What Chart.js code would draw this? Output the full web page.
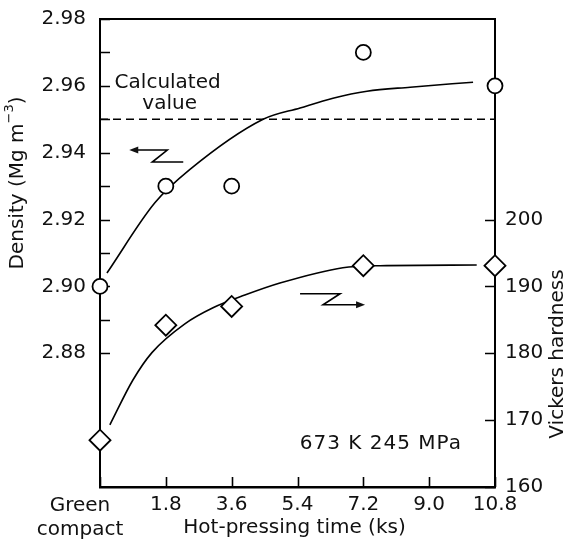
<!DOCTYPE html>
<html>
<head>
<meta charset="utf-8">
<script src="https://cdn.jsdelivr.net/npm/chart.js@4.4.1/dist/chart.umd.min.js"></script>
<style>
  html, body { margin: 0; padding: 0; background: #fff; }
</style>
</head>
<body>
<canvas id="c" width="569" height="543"></canvas>
<script>
// ---- data ----
const timeTicks = [0, 1.8, 3.6, 5.4, 7.2, 9.0, 10.8];   // ks
const densTime = [0, 1.8, 3.6, 7.2, 10.8];
const density = [2.900, 2.930, 2.930, 2.970, 2.960];    // Mg m-3
const hardTime = [0, 1.8, 3.6, 7.2, 10.8];
const hardness = [167, 184.2, 187, 193.1, 193.1];       // HV

// hand-drawn trend curves
const densFitTime = [0.19, 1.5, 2.46, 4.46, 5.47, 6.37, 7.3, 8.48, 10.2];
const densFit = [2.904, 2.925, 2.935, 2.950, 2.9534, 2.9563, 2.9584, 2.9596, 2.9611];
const hardFitTime = [0.27, 0.9, 1.42, 2.32, 3.09, 3.96, 4.92, 6.64, 7.66, 10.3];
const hardFit = [169.3, 176.0, 180.1, 184.4, 186.8, 188.7, 190.5, 192.8, 193.1, 193.2];

const calcDensity = 2.95;

const FAMILY = '"DejaVu Sans", sans-serif';
const pts = (xs, ys) => xs.map((v, i) => ({ x: v, y: ys[i] }));

// ---- ticks inside the frame, top border ----
const frameTicks = {
  id: 'frameTicks',
  beforeDatasetsDraw(chart) {
    const { ctx, chartArea: a, scales: { x, y, y2 } } = chart;
    ctx.save();
    ctx.strokeStyle = '#000';
    ctx.lineWidth = 2;
    ctx.beginPath();
    ctx.moveTo(a.left - 1, a.top);
    ctx.lineTo(a.right + 1, a.top);
    ctx.stroke();

    ctx.lineWidth = 1.6;
    ctx.beginPath();
    y.ticks.forEach((t) => {
      if (t.value < 2.875) return;
      const py = Math.round(y.getPixelForValue(t.value)) + 0.5;
      ctx.moveTo(a.left, py);
      ctx.lineTo(a.left + 10, py);
    });
    y2.ticks.forEach((t) => {
      if (t.value > 205) return;
      const py = Math.round(y2.getPixelForValue(t.value)) + 0.5;
      ctx.moveTo(a.right, py);
      ctx.lineTo(a.right - 10, py);
    });
    x.ticks.forEach((t) => {
      const px = Math.round(x.getPixelForValue(t.value)) + 0.5;
      ctx.moveTo(px, a.bottom);
      ctx.lineTo(px, a.bottom - 10);
    });
    ctx.stroke();
    ctx.restore();
  },
};

// ---- titles, notes and the little axis arrows ----
function arrowHead(ctx, px, py, dir) {
  ctx.beginPath();
  ctx.moveTo(px, py);
  ctx.lineTo(px - dir * 9, py - 3.5);
  ctx.lineTo(px - dir * 9, py + 3.5);
  ctx.closePath();
  ctx.fill();
}

const notes = {
  id: 'notes',
  afterDraw(chart) {
    const { ctx, chartArea: a, scales: { x, y, y2 } } = chart;
    ctx.save();
    ctx.fillStyle = '#111';
    ctx.strokeStyle = '#000';
    ctx.textBaseline = 'middle';
    ctx.textAlign = 'center';
    ctx.font = '20px ' + FAMILY;

    // Green compact label under x = 0
    const gx = x.getPixelForValue(0) - 20;
    ctx.fillText('Green', gx, a.bottom + 19);
    ctx.fillText('compact', gx, a.bottom + 43);

    // x title
    ctx.fillText('Hot-pressing time (ks)', (a.left + a.right) / 2 - 3, a.bottom + 41);

    // calculated value
    const cx = x.getPixelForValue(1.85);
    const cy = y.getPixelForValue(2.961);
    ctx.fillText('Calculated', cx, cy);
    ctx.fillText('value', cx + 2, cy + 21);

    // condition
    if ('letterSpacing' in ctx) ctx.letterSpacing = '1px';
    ctx.fillText('673 K 245 MPa', x.getPixelForValue(7.68), y2.getPixelForValue(166.5));
    if ('letterSpacing' in ctx) ctx.letterSpacing = '0px';

    // left title with superscript
    ctx.save();
    ctx.translate(18, 183);
    ctx.rotate(-Math.PI / 2);
    ctx.textAlign = 'left';
    const main = 'Density (Mg m';
    const sup = '\u22123';
    ctx.font = '20px ' + FAMILY;
    const w1 = ctx.measureText(main).width;
    const w3 = ctx.measureText(')').width;
    ctx.font = '13px ' + FAMILY;
    const w2 = ctx.measureText(sup).width;
    const sx = -(w1 + w2 + w3) / 2;
    ctx.font = '20px ' + FAMILY;
    ctx.fillText(main, sx, 0);
    ctx.font = '13px ' + FAMILY;
    ctx.fillText(sup, sx + w1, -8);
    ctx.font = '20px ' + FAMILY;
    ctx.fillText(')', sx + w1 + w2, 0);
    ctx.restore();

    // right title
    ctx.save();
    ctx.translate(558, 354);
    ctx.rotate(-Math.PI / 2);
    ctx.fillText('Vickers hardness', 0, 0);
    ctx.restore();

    // arrow pointing to density axis
    ctx.lineWidth = 1.6;
    let ax = x.getPixelForValue(0.8);
    let ay = y.getPixelForValue(2.9408);
    ctx.beginPath();
    ctx.moveTo(ax + 6, ay);
    ctx.lineTo(ax + 38, ay);
    ctx.lineTo(ax + 23, ay + 12);
    ctx.lineTo(ax + 54, ay + 12);
    ctx.stroke();
    arrowHead(ctx, ax, ay, -1);

    // arrow pointing to hardness axis
    ax = x.getPixelForValue(5.47);
    ay = y2.getPixelForValue(188.9);
    ctx.beginPath();
    ctx.moveTo(ax, ay);
    ctx.lineTo(ax + 40, ay);
    ctx.lineTo(ax + 23, ay + 11);
    ctx.lineTo(ax + 59, ay + 11);
    ctx.stroke();
    arrowHead(ctx, ax + 65, ay + 11, 1);

    ctx.restore();
  },
};

const tickFont = { family: FAMILY, size: 20 };
const noGrid = { display: false, drawTicks: false, tickLength: 0 };

new Chart(document.getElementById('c'), {
  type: 'scatter',
  data: {
    datasets: [
      {
        label: 'Density',
        data: pts(densTime, density),
        yAxisID: 'y',
        pointStyle: 'circle',
        pointRadius: 7.5,
        pointBackgroundColor: '#fff',
        pointBorderColor: '#000',
        pointBorderWidth: 1.8,
        clip: false,
        order: 0,
      },
      {
        label: 'Hardness',
        data: pts(hardTime, hardness),
        yAxisID: 'y2',
        pointStyle: 'rectRot',
        pointRadius: 10.5,
        pointBackgroundColor: '#fff',
        pointBorderColor: '#000',
        pointBorderWidth: 1.8,
        clip: false,
        order: 0,
      },
      {
        label: 'Density trend',
        data: pts(densFitTime, densFit),
        yAxisID: 'y',
        showLine: true,
        pointRadius: 0,
        borderColor: '#000',
        borderWidth: 1.6,
        cubicInterpolationMode: 'monotone',
        order: 1,
      },
      {
        label: 'Hardness trend',
        data: pts(hardFitTime, hardFit),
        yAxisID: 'y2',
        showLine: true,
        pointRadius: 0,
        borderColor: '#000',
        borderWidth: 1.6,
        cubicInterpolationMode: 'monotone',
        order: 1,
      },
      {
        label: 'Calculated value',
        data: [{ x: timeTicks[0], y: calcDensity }, { x: timeTicks[timeTicks.length - 1], y: calcDensity }],
        yAxisID: 'y',
        showLine: true,
        pointRadius: 0,
        borderColor: '#000',
        borderWidth: 1.5,
        borderDash: [8, 5],
        order: 1,
      },
    ],
  },
  options: {
    responsive: false,
    animation: false,
    devicePixelRatio: 1,
    layout: { padding: { top: 19, left: 0, right: 0, bottom: 0 } },
    plugins: { legend: { display: false }, tooltip: { enabled: false } },
    scales: {
      x: {
        type: 'linear',
        min: timeTicks[0],
        max: timeTicks[timeTicks.length - 1],
        afterBuildTicks: (s) => { s.ticks = timeTicks.map((v) => ({ value: v })); },
        afterFit: (s) => { s.height = 56; s.paddingLeft = 0; s.paddingRight = 0; },
        grid: noGrid,
        border: { display: true, color: '#000', width: 2.5 },
        ticks: {
          autoSkip: false,
          maxRotation: 0,
          padding: 6,
          color: '#111',
          font: tickFont,
          callback: (v) => (Math.abs(v) < 1e-9 ? '' : Number(v).toFixed(1)),
        },
      },
      y: {
        position: 'left',
        min: 2.84,
        max: 2.98,
        afterFit: (s) => { s.width = 100; s.paddingTop = 0; s.paddingBottom = 0; },
        grid: noGrid,
        border: { display: true, color: '#000', width: 2 },
        ticks: {
          stepSize: 0.01,
          maxTicksLimit: 20,
          autoSkip: false,
          padding: 14,
          color: '#111',
          font: tickFont,
          callback: (v) => {
            const k = Math.round(v * 100);
            if (k < 288 || k % 2) return '';
            return (k / 100).toFixed(2);
          },
        },
      },
      y2: {
        position: 'right',
        min: 160,
        max: 230,
        afterFit: (s) => { s.width = 74; s.paddingTop = 0; s.paddingBottom = 0; },
        grid: noGrid,
        border: { display: true, color: '#000', width: 2 },
        ticks: {
          stepSize: 10,
          autoSkip: false,
          padding: 10,
          color: '#111',
          font: tickFont,
          callback: (v) => (v > 200 ? '' : String(v)),
        },
      },
    },
  },
  plugins: [frameTicks, notes],
});
</script>
</body>
</html>
